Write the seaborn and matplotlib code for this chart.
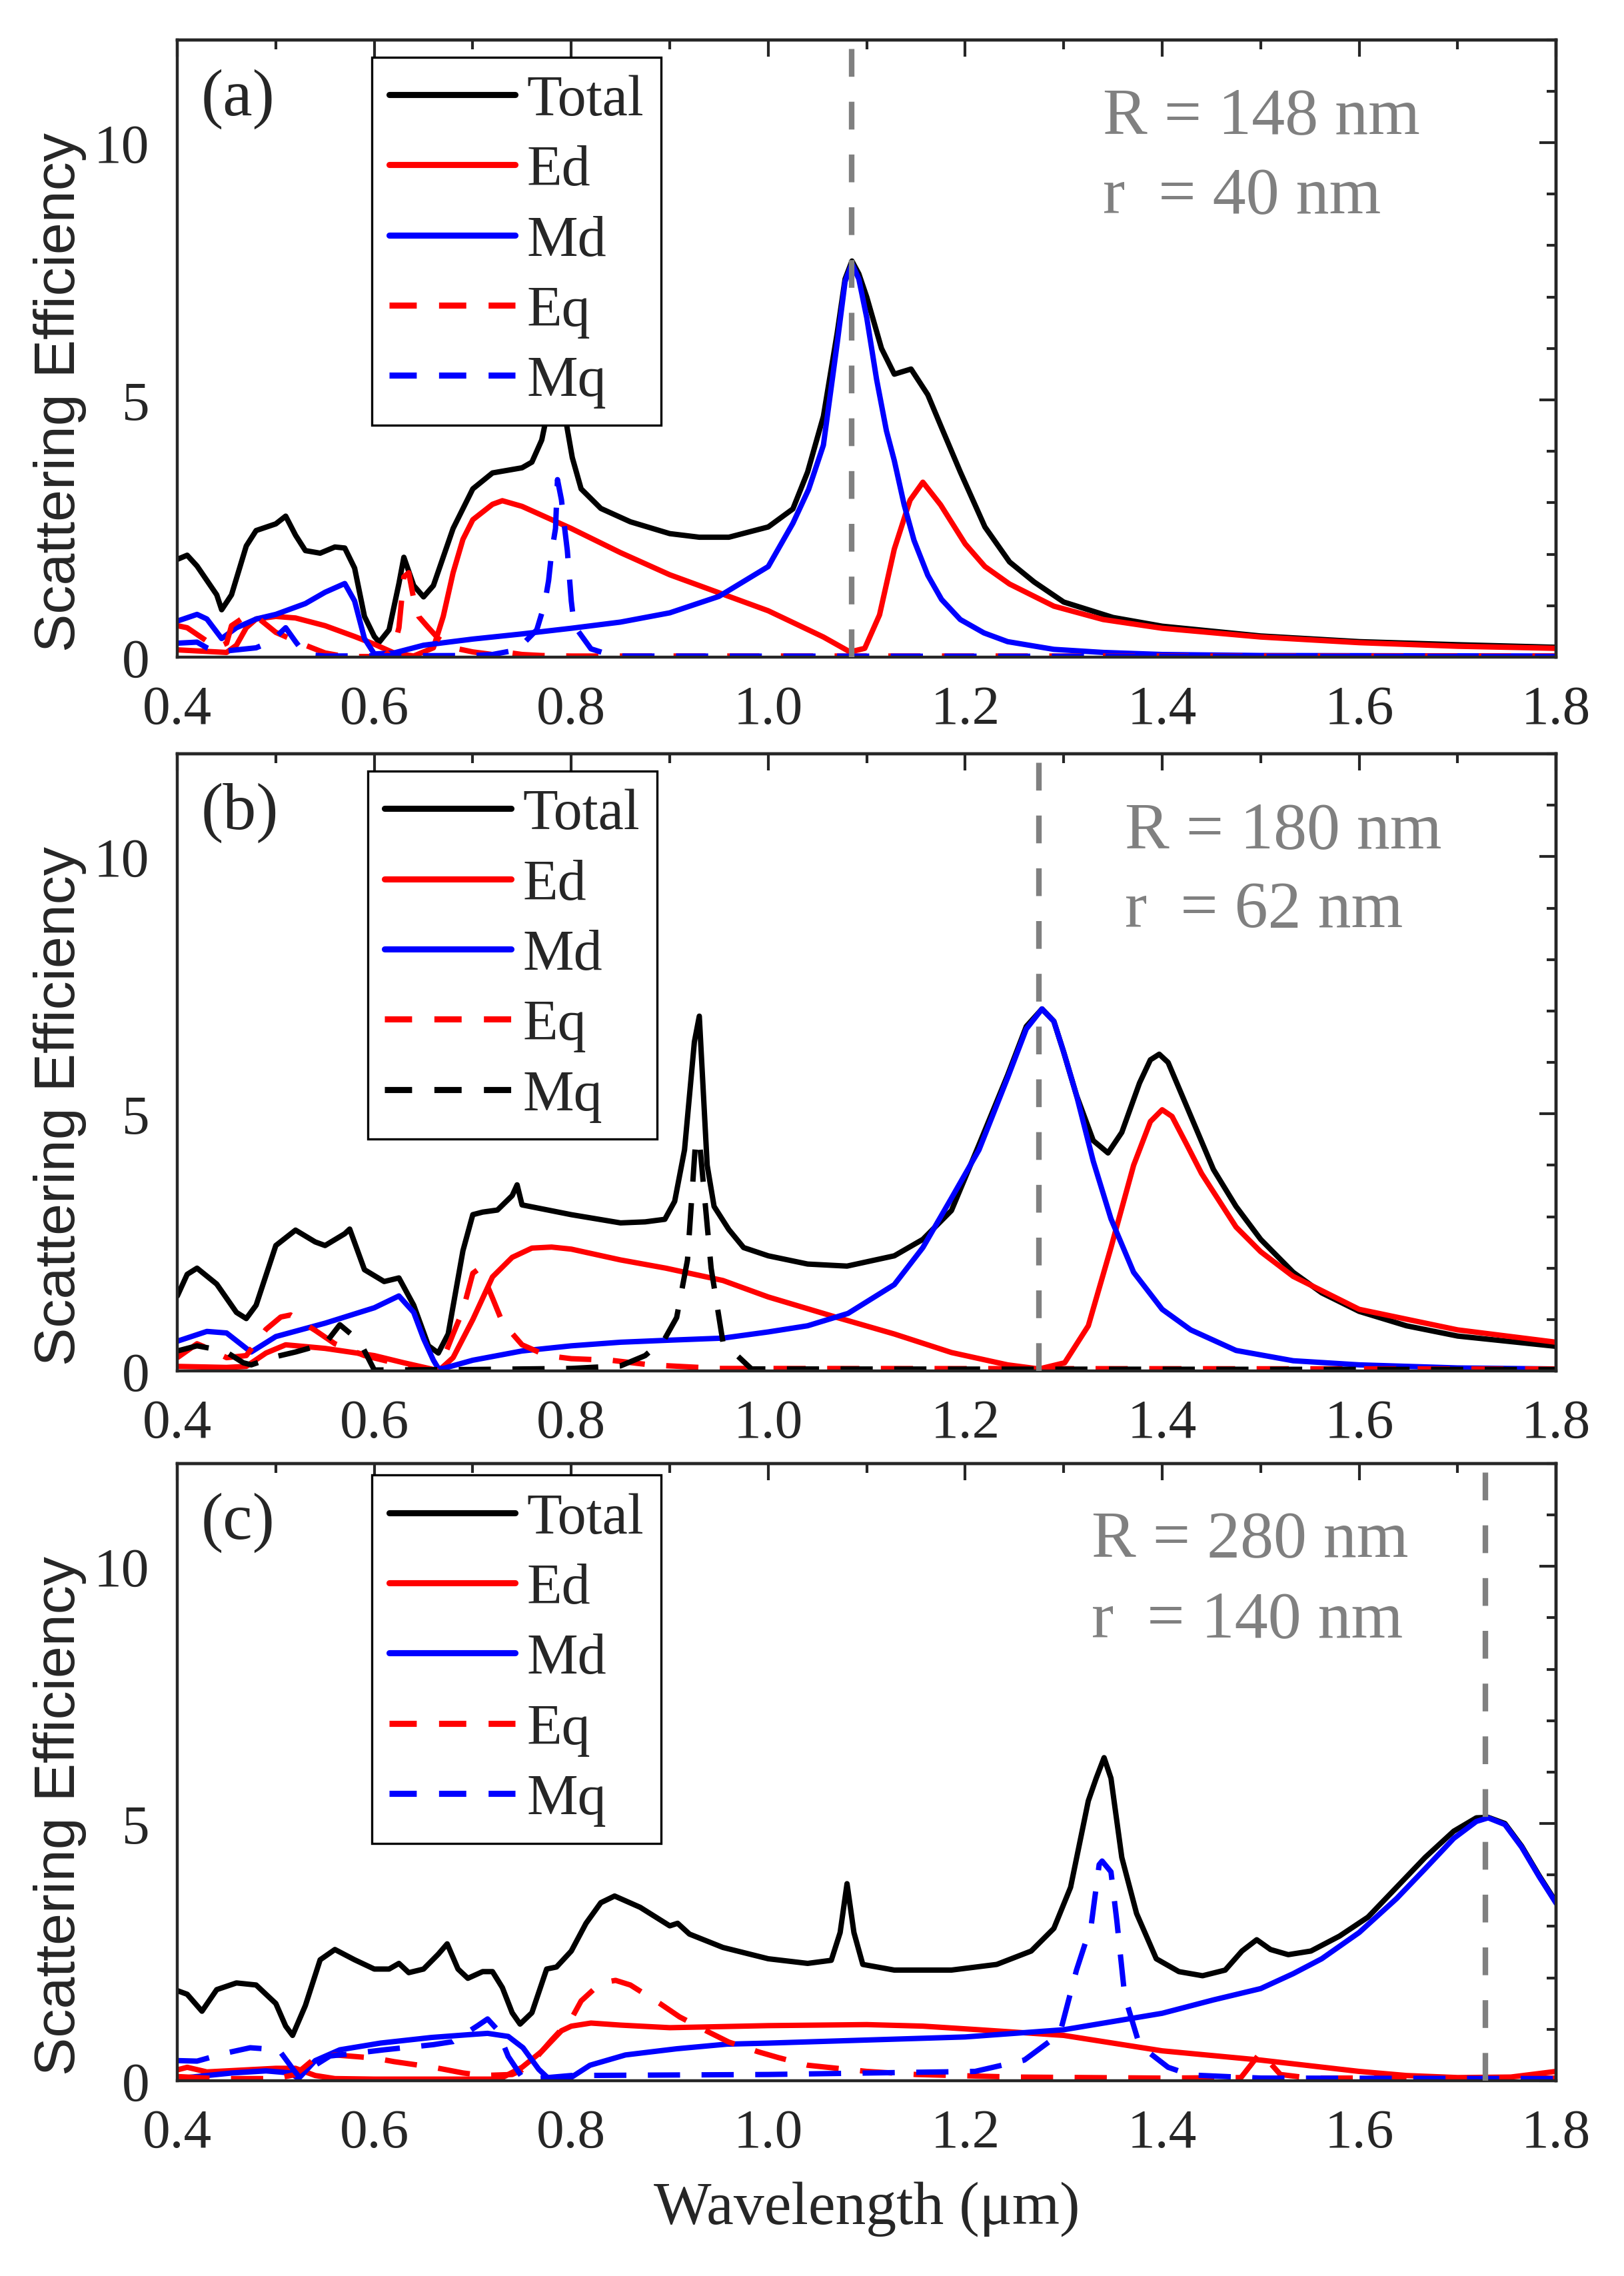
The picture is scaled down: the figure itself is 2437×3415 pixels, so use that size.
import seaborn as sns
import matplotlib.pyplot as plt
from matplotlib.lines import Line2D
from matplotlib.ticker import MultipleLocator

# ---------------- panel (a): R = 148 nm, r = 40 nm ----------------
a_total_x = [0.40, 0.41, 0.42, 0.44, 0.445, 0.455, 0.47, 0.48, 0.50, 0.51, 0.52, 0.53, 0.545, 0.56, 0.57, 0.58,
             0.59, 0.60, 0.605, 0.615, 0.625, 0.63, 0.64, 0.65, 0.66, 0.68, 0.70, 0.72, 0.75, 0.76, 0.77, 0.777,
             0.786, 0.794, 0.801, 0.81, 0.83, 0.86, 0.90, 0.93, 0.96, 1.00, 1.025, 1.04, 1.056, 1.07, 1.078,
             1.085, 1.092, 1.10, 1.115, 1.128, 1.145, 1.162, 1.176, 1.195, 1.22, 1.245, 1.27, 1.30, 1.35, 1.40,
             1.50, 1.60, 1.70, 1.80]
a_total = [1.90, 1.98, 1.77, 1.21, 0.92, 1.21, 2.16, 2.46, 2.59, 2.74, 2.37, 2.07, 2.02, 2.14, 2.12, 1.73,
           0.79, 0.40, 0.29, 0.53, 1.43, 1.94, 1.39, 1.17, 1.39, 2.50, 3.27, 3.58, 3.68, 3.79, 4.22, 4.86,
           6.0, 4.65, 3.88, 3.27, 2.89, 2.63, 2.40, 2.33, 2.33, 2.53, 2.88, 3.6, 4.68, 6.3, 7.35,
           7.7, 7.45, 7.0, 6.0, 5.5, 5.6, 5.1, 4.46, 3.6, 2.53, 1.85, 1.46, 1.07, 0.77, 0.60,
           0.41, 0.30, 0.24, 0.19]

a_ed_x = [0.40, 0.42, 0.45, 0.46, 0.47, 0.48, 0.50, 0.52, 0.55, 0.58, 0.60, 0.62, 0.64, 0.66, 0.67, 0.68, 0.69,
          0.70, 0.72, 0.73, 0.75, 0.80, 0.85, 0.90, 0.95, 1.00, 1.056, 1.083, 1.098, 1.113, 1.128, 1.144, 1.157,
          1.175, 1.20, 1.22, 1.245, 1.29, 1.34, 1.40, 1.50, 1.60, 1.70, 1.80]
a_ed = [0.14, 0.12, 0.09, 0.23, 0.57, 0.74, 0.79, 0.76, 0.61, 0.40, 0.25, 0.08, 0.02, 0.18, 0.79, 1.64, 2.29,
        2.67, 2.97, 3.04, 2.93, 2.50, 2.03, 1.60, 1.25, 0.90, 0.39, 0.10, 0.17, 0.82, 2.10, 3.05, 3.40,
        2.96, 2.20, 1.76, 1.42, 0.99, 0.73, 0.56, 0.39, 0.28, 0.21, 0.17]

a_md_x = [0.40, 0.42, 0.43, 0.445, 0.46, 0.48, 0.50, 0.53, 0.55, 0.57, 0.58, 0.59, 0.60, 0.62, 0.65, 0.70, 0.75,
          0.80, 0.85, 0.90, 0.95, 1.00, 1.025, 1.041, 1.056, 1.07, 1.078, 1.085, 1.092, 1.10, 1.11, 1.12, 1.128,
          1.138, 1.148, 1.162, 1.176, 1.195, 1.219, 1.243, 1.29, 1.34, 1.40, 1.50, 1.80]
a_md = [0.70, 0.83, 0.74, 0.36, 0.57, 0.74, 0.83, 1.04, 1.26, 1.43, 1.09, 0.36, 0.06, 0.08, 0.23, 0.35, 0.45,
        0.56, 0.68, 0.86, 1.18, 1.76, 2.60, 3.26, 4.12, 6.1, 7.3, 7.65, 7.35, 6.6, 5.4, 4.4, 3.82,
        2.96, 2.27, 1.59, 1.12, 0.73, 0.47, 0.30, 0.15, 0.09, 0.05, 0.03, 0.02]

a_eq_x = [0.40, 0.41, 0.43, 0.44, 0.45, 0.455, 0.465, 0.48, 0.50, 0.53, 0.55, 0.57, 0.61, 0.62, 0.625, 0.63,
          0.635, 0.64, 0.645, 0.655, 0.665, 0.68, 0.70, 0.72, 0.735, 0.75, 0.77, 0.80, 1.00, 1.80]
a_eq = [0.61, 0.57, 0.31, 0.18, 0.27, 0.61, 0.74, 0.79, 0.48, 0.23, 0.08, 0.01, 0.01, 0.20, 0.57, 1.56,
        1.64, 1.13, 0.79, 0.57, 0.36, 0.18, 0.10, 0.05, 0.09, 0.05, 0.03, 0.02, 0.02, 0.02]

a_mq_x = [0.40, 0.42, 0.43, 0.44, 0.45, 0.47, 0.48, 0.495, 0.51, 0.52, 0.53, 0.55, 0.70, 0.72, 0.745, 0.765,
          0.773, 0.777, 0.78, 0.784, 0.786, 0.79, 0.793, 0.796, 0.80, 0.803, 0.82, 0.843, 1.80]
a_mq = [0.27, 0.29, 0.18, 0.10, 0.12, 0.16, 0.18, 0.30, 0.57, 0.30, 0.05, 0.02, 0.03, 0.05, 0.14, 0.53,
        1.04, 1.49, 2.03, 2.50, 3.45, 3.06, 2.55, 2.07, 1.09, 0.61, 0.16, 0.02, 0.01]

# ---------------- panel (b): R = 180 nm, r = 62 nm ----------------
b_total_x = [0.40, 0.41, 0.42, 0.44, 0.46, 0.47, 0.48, 0.50, 0.52, 0.54, 0.55, 0.57, 0.575, 0.59, 0.61, 0.625,
             0.64, 0.655, 0.665, 0.675, 0.69, 0.70, 0.71, 0.725, 0.74, 0.745, 0.75, 0.80, 0.85, 0.875, 0.895,
             0.905, 0.915, 0.925, 0.93, 0.938, 0.945, 0.96, 0.975, 1.00, 1.04, 1.08, 1.128, 1.157, 1.186,
             1.214, 1.243, 1.262, 1.278, 1.29, 1.30, 1.313, 1.33, 1.345, 1.359, 1.377, 1.388, 1.397, 1.406,
             1.429, 1.452, 1.475, 1.50, 1.533, 1.562, 1.60, 1.648, 1.70, 1.80]
b_total = [1.46, 1.88, 2.00, 1.69, 1.14, 1.02, 1.28, 2.44, 2.74, 2.51, 2.44, 2.67, 2.76, 1.97, 1.74, 1.81,
           1.28, 0.49, 0.35, 0.72, 2.34, 3.04, 3.09, 3.13, 3.41, 3.62, 3.23, 3.04, 2.88, 2.90, 2.95,
           3.3, 4.3, 6.4, 6.9, 4.0, 3.2, 2.75, 2.40, 2.24, 2.08, 2.04, 2.24, 2.56, 3.12,
           4.4, 5.75, 6.7, 7.04, 6.8, 6.2, 5.36, 4.48, 4.24, 4.64, 5.60, 6.05, 6.16, 6.00,
           4.96, 3.92, 3.20, 2.56, 1.92, 1.52, 1.16, 0.88, 0.68, 0.48]

b_ed_x = [0.40, 0.45, 0.47, 0.49, 0.51, 0.55, 0.60, 0.63, 0.66, 0.665, 0.68, 0.70, 0.72, 0.74, 0.76, 0.78,
          0.80, 0.85, 0.896, 0.954, 1.00, 1.07, 1.128, 1.186, 1.243, 1.275, 1.301, 1.325, 1.348, 1.371, 1.388,
          1.40, 1.41, 1.425, 1.44, 1.475, 1.50, 1.533, 1.60, 1.70, 1.80]
b_ed = [0.09, 0.07, 0.09, 0.35, 0.51, 0.44, 0.30, 0.16, 0.03, 0.00, 0.26, 1.00, 1.83, 2.21, 2.39, 2.41,
        2.37, 2.16, 2.00, 1.76, 1.44, 1.04, 0.72, 0.36, 0.12, 0.04, 0.16, 0.88, 2.40, 4.00, 4.85,
        5.08, 4.95, 4.40, 3.84, 2.80, 2.32, 1.84, 1.20, 0.80, 0.56]

b_md_x = [0.40, 0.43, 0.45, 0.47, 0.475, 0.50, 0.55, 0.60, 0.625, 0.64, 0.65, 0.66, 0.665, 0.67, 0.70, 0.75,
          0.80, 0.85, 0.90, 0.954, 1.00, 1.04, 1.081, 1.128, 1.157, 1.186, 1.214, 1.243, 1.262, 1.278, 1.29,
          1.30, 1.313, 1.33, 1.348, 1.371, 1.40, 1.429, 1.475, 1.533, 1.60, 1.70, 1.80]
b_md = [0.58, 0.77, 0.74, 0.44, 0.37, 0.67, 0.93, 1.23, 1.46, 1.14, 0.63, 0.21, 0.05, 0.05, 0.21, 0.39,
        0.49, 0.56, 0.60, 0.64, 0.76, 0.88, 1.12, 1.68, 2.40, 3.36, 4.30, 5.70, 6.65, 7.04, 6.8,
        6.2, 5.36, 4.08, 2.96, 1.92, 1.20, 0.80, 0.40, 0.20, 0.12, 0.06, 0.04]

b_eq_x = [0.40, 0.42, 0.43, 0.45, 0.47, 0.49, 0.505, 0.515, 0.54, 0.56, 0.59, 0.62, 0.65, 0.665, 0.68, 0.69,
          0.70, 0.705, 0.71, 0.72, 0.73, 0.75, 0.775, 0.80, 0.84, 0.88, 0.90, 0.95, 1.80]
b_eq = [0.26, 0.53, 0.45, 0.26, 0.30, 0.81, 1.05, 1.09, 0.79, 0.53, 0.30, 0.16, 0.05, 0.00, 0.72, 1.18,
        1.90, 1.97, 1.88, 1.42, 0.95, 0.51, 0.30, 0.24, 0.21, 0.12, 0.10, 0.05, 0.04]

b_mq_x = [0.40, 0.42, 0.448, 0.467, 0.475, 0.50, 0.52, 0.55, 0.565, 0.585, 0.60, 0.70, 0.80, 0.85, 0.875,
          0.895, 0.907, 0.918, 0.926, 0.93, 0.942, 0.954, 0.983, 1.80]
b_mq = [0.39, 0.49, 0.39, 0.16, 0.12, 0.28, 0.37, 0.53, 0.90, 0.58, 0.02, 0.03, 0.05, 0.10, 0.30,
        0.63, 1.04, 2.16, 4.40, 4.50, 2.00, 0.56, 0.04, 0.03]

# ---------------- panel (c): R = 280 nm, r = 140 nm ----------------
c_total_x = [0.40, 0.41, 0.425, 0.44, 0.46, 0.48, 0.50, 0.51, 0.517, 0.53, 0.545, 0.56, 0.58, 0.60, 0.615,
             0.625, 0.635, 0.65, 0.665, 0.674, 0.685, 0.695, 0.71, 0.72, 0.73, 0.74, 0.748, 0.76, 0.775, 0.785,
             0.80, 0.815, 0.83, 0.844, 0.87, 0.90, 0.908, 0.92, 0.954, 1.00, 1.04, 1.064, 1.073, 1.08, 1.087,
             1.096, 1.128, 1.186, 1.232, 1.267, 1.29, 1.307, 1.325, 1.333, 1.341, 1.348, 1.359, 1.374, 1.394,
             1.417, 1.441, 1.464, 1.481, 1.496, 1.51, 1.528, 1.551, 1.58, 1.609, 1.638, 1.667, 1.696, 1.719,
             1.731, 1.748, 1.765, 1.783, 1.80]
c_total = [1.75, 1.68, 1.35, 1.77, 1.90, 1.86, 1.50, 1.06, 0.88, 1.46, 2.35, 2.55, 2.35, 2.17, 2.17,
           2.28, 2.10, 2.17, 2.46, 2.66, 2.17, 1.99, 2.12, 2.12, 1.81, 1.32, 1.10, 1.32, 2.17, 2.21,
           2.52, 3.06, 3.46, 3.59, 3.37, 3.01, 3.06, 2.85, 2.59, 2.37, 2.28, 2.34, 2.88, 3.83, 2.88,
           2.26, 2.15, 2.15, 2.26, 2.52, 2.96, 3.76, 5.44, 5.88, 6.28, 5.88, 4.34, 3.25, 2.37,
           2.12, 2.04, 2.15, 2.52, 2.74, 2.55, 2.45, 2.52, 2.81, 3.18, 3.76, 4.34, 4.85, 5.11,
           5.12, 5.00, 4.56, 3.98, 3.47]

c_ed_x = [0.40, 0.41, 0.43, 0.46, 0.50, 0.52, 0.54, 0.56, 0.60, 0.72, 0.73, 0.75, 0.77, 0.79, 0.80, 0.82,
          0.85, 0.90, 1.00, 1.10, 1.157, 1.214, 1.30, 1.40, 1.50, 1.60, 1.648, 1.70, 1.754, 1.80]
c_ed = [0.21, 0.26, 0.17, 0.20, 0.24, 0.24, 0.10, 0.04, 0.03, 0.03, 0.06, 0.26, 0.57, 0.97, 1.06, 1.12,
        1.08, 1.03, 1.07, 1.09, 1.06, 0.99, 0.88, 0.58, 0.40, 0.18, 0.10, 0.06, 0.07, 0.18]

c_md_x = [0.40, 0.43, 0.456, 0.49, 0.515, 0.523, 0.54, 0.565, 0.606, 0.658, 0.70, 0.715, 0.736, 0.751, 0.767,
          0.777, 0.785, 0.798, 0.819, 0.855, 0.907, 0.958, 1.00, 1.10, 1.20, 1.30, 1.40, 1.452, 1.50, 1.533,
          1.562, 1.60, 1.638, 1.667, 1.696, 1.719, 1.731, 1.748, 1.765, 1.783, 1.80]
c_md = [0.04, 0.10, 0.15, 0.19, 0.15, 0.04, 0.39, 0.60, 0.73, 0.84, 0.90, 0.92, 0.86, 0.64, 0.22,
        0.04, 0.01, 0.04, 0.30, 0.50, 0.62, 0.71, 0.73, 0.79, 0.85, 0.99, 1.31, 1.57, 1.79, 2.08,
        2.37, 2.88, 3.54, 4.12, 4.71, 5.04, 5.11, 4.98, 4.54, 3.96, 3.45]

c_eq_x = [0.40, 0.43, 0.45, 0.50, 0.52, 0.54, 0.56, 0.60, 0.62, 0.66, 0.69, 0.71, 0.74, 0.75, 0.76, 0.78,
          0.80, 0.81, 0.83, 0.845, 0.86, 0.89, 0.91, 0.94, 0.96, 0.99, 1.01, 1.04, 1.06, 1.10, 1.15, 1.25,
          1.40, 1.48, 1.50, 1.52, 1.55, 1.80]
c_eq = [0.08, 0.05, 0.04, 0.04, 0.12, 0.44, 0.50, 0.44, 0.37, 0.26, 0.15, 0.10, 0.12, 0.21, 0.35, 0.79,
        1.20, 1.55, 1.90, 1.95, 1.86, 1.50, 1.24, 0.94, 0.75, 0.56, 0.45, 0.30, 0.26, 0.18, 0.12, 0.07,
        0.05, 0.06, 0.55, 0.12, 0.05, 0.05]

c_mq_x = [0.40, 0.42, 0.45, 0.474, 0.503, 0.518, 0.525, 0.54, 0.555, 0.575, 0.61, 0.66, 0.68, 0.705, 0.715,
          0.725, 0.736, 0.751, 0.77, 0.80, 1.00, 1.21, 1.26, 1.296, 1.313, 1.328, 1.336, 1.339, 1.348,
          1.354, 1.362, 1.377, 1.406, 1.429, 1.50, 1.80]
c_mq = [0.39, 0.38, 0.54, 0.64, 0.60, 0.21, 0.04, 0.30, 0.48, 0.52, 0.60, 0.70, 0.76, 1.07, 1.20,
        0.99, 0.47, 0.04, 0.05, 0.10, 0.12, 0.18, 0.40, 0.91, 2.15, 3.03, 4.20, 4.27, 4.06,
        3.10, 1.64, 0.69, 0.26, 0.11, 0.05, 0.04]

legend_labels = ['Total', 'Ed', 'Md', 'Eq', 'Mq']

sns.set_style('white')
plt.rcParams['font.family'] = ['Liberation Serif', 'DejaVu Serif']
plt.rcParams['axes.linewidth'] = 1.6

LW = 2.9
DASH = (0, (6, 4))
LEG_DASH = (0, (4.46, 3.65))
GREY = '#808080'

fig = plt.figure(figsize=(12.185, 17.08), dpi=200)
ax_a = fig.add_axes([0.1092, 0.7111, 0.849, 0.2711])
ax_b = fig.add_axes([0.1092, 0.3975, 0.849, 0.2711])
ax_c = fig.add_axes([0.1092, 0.0858, 0.849, 0.2711])

panels = [
    (ax_a, '(a)', 'R = 148 nm', 'r  = 40 nm', 1.085, 1.34, 'blue', (0.141, 0.972),
     [(a_total_x, a_total), (a_ed_x, a_ed), (a_md_x, a_md), (a_eq_x, a_eq), (a_mq_x, a_mq)]),
    (ax_b, '(b)', 'R = 180 nm', 'r  = 62 nm', 1.275, 1.362, 'black', (0.138, 0.972),
     [(b_total_x, b_total), (b_ed_x, b_ed), (b_md_x, b_md), (b_eq_x, b_eq), (b_mq_x, b_mq)]),
    (ax_c, '(c)', 'R = 280 nm', 'r  = 140 nm', 1.728, 1.328, 'blue', (0.141, 0.981),
     [(c_total_x, c_total), (c_ed_x, c_ed), (c_md_x, c_md), (c_eq_x, c_eq), (c_mq_x, c_mq)]),
]

for ax, tag, big_r, small_r, xline, xtext, mq_color, leg_pos, series in panels:
    styles = [('black', '-'), ('red', '-'), ('blue', '-'), ('red', DASH), (mq_color, DASH)]
    for (xs, ys), (col, ls) in zip(series, styles):
        sns.lineplot(x=xs, y=ys, ax=ax, color=col, linestyle=ls, lw=LW,
                     estimator=None, sort=False, errorbar=None)

    ax.axvline(xline, color=GREY, lw=3, ls=(0, (5, 4.5)), zorder=4)

    ax.set_xlim(0.4, 1.8)
    ax.set_ylim(0, 12)
    ax.xaxis.set_major_locator(MultipleLocator(0.2))
    ax.xaxis.set_minor_locator(MultipleLocator(0.1))
    ax.yaxis.set_major_locator(MultipleLocator(5))
    ax.yaxis.set_minor_locator(MultipleLocator(1))
    ax.tick_params(which='both', direction='out', width=1.5, labelsize=30, pad=6,
                   top=False, right=False)
    ax.tick_params(which='major', length=9)
    ax.tick_params(which='minor', length=5)

    # origin-style inward ticks on the top and right frame
    top = ax.secondary_xaxis('top')
    top.xaxis.set_major_locator(MultipleLocator(0.2))
    top.xaxis.set_minor_locator(MultipleLocator(0.1))
    top.tick_params(which='both', direction='in', width=1.5, labeltop=False)
    top.tick_params(which='major', length=9)
    top.tick_params(which='minor', length=5)
    right = ax.secondary_yaxis('right')
    right.yaxis.set_major_locator(MultipleLocator(5))
    right.yaxis.set_minor_locator(MultipleLocator(1))
    right.tick_params(which='both', direction='in', width=1.5, labelright=False)
    right.tick_params(which='major', length=9)
    right.tick_params(which='minor', length=5)

    ax.set_ylabel('Scattering Efficiency', family=['Liberation Sans', 'DejaVu Sans'], fontsize=31)
    ax.yaxis.set_label_coords(-0.066, 0.43)
    ax.set_xlabel('')

    ax.text(0.017, 0.905, tag, transform=ax.transAxes, fontsize=36, va='center', ha='left')
    ax.text(xtext, 10.5, big_r, color=GREY, fontsize=36, va='center', ha='left')
    ax.text(xtext, 8.95, small_r, color=GREY, fontsize=36, va='center', ha='left')

    leg_styles = [(c, LEG_DASH if s == DASH else s) for c, s in styles]
    handles = [Line2D([], [], color=c, ls=s, lw=LW + 0.4) for c, s in leg_styles]
    leg = ax.legend(handles, legend_labels, loc='upper left', bbox_to_anchor=leg_pos,
                    frameon=True, fancybox=False, edgecolor='black', framealpha=1,
                    fontsize=31, handlelength=2.2, handletextpad=0.2, labelspacing=0.3,
                    borderpad=0.3, borderaxespad=0)
    leg.get_frame().set_linewidth(1.2)
    leg.set_zorder(6)

ax_c.set_xlabel('Wavelength (μm)', fontsize=33)
ax_c.xaxis.set_label_coords(0.5, -0.207)
ax_c.xaxis.label.set_va('center')

fig.savefig('out.png', dpi=200, facecolor='white')
